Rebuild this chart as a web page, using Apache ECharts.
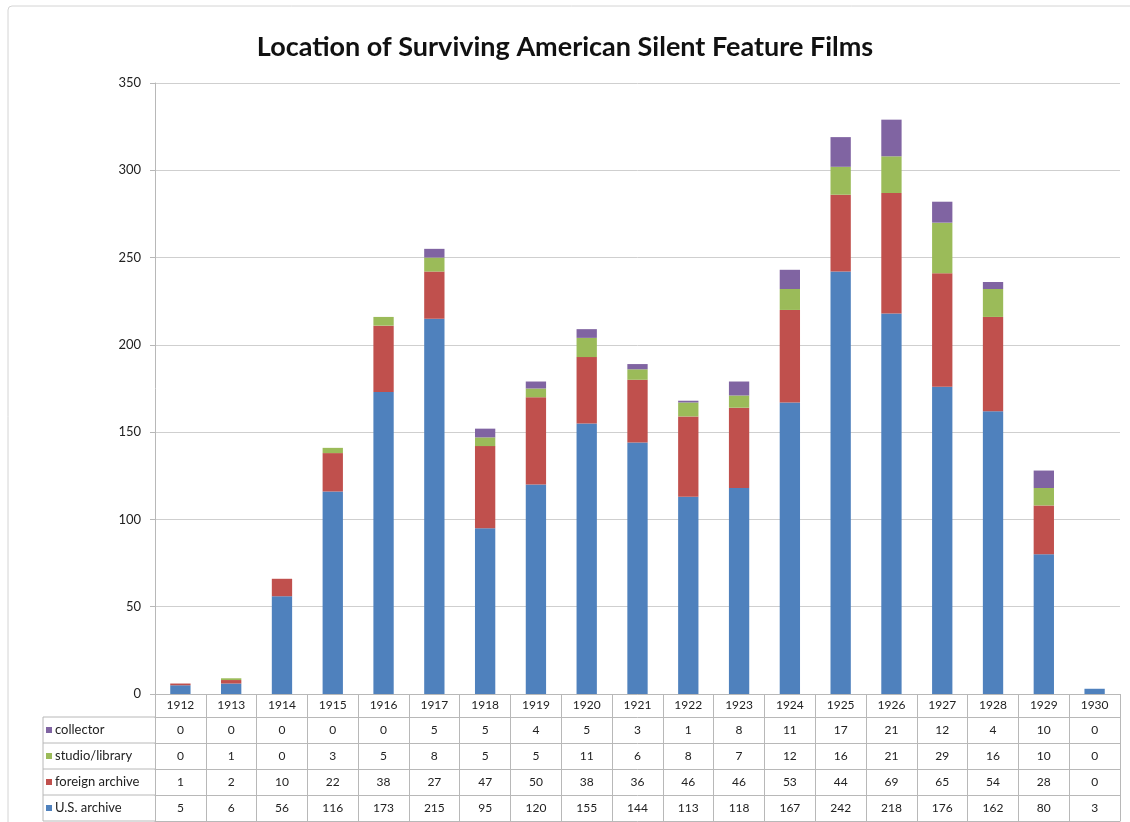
<!DOCTYPE html>
<html>
<head>
<meta charset="utf-8">
<title>Location of Surviving American Silent Feature Films</title>
<script src="https://cdn.jsdelivr.net/npm/echarts@6/dist/echarts.min.js"></script>
<style>
  html, body { margin: 0; padding: 0; background: #fff; }
  #main { width: 1130px; height: 822px; }
</style>
</head>
<body>
<div id="main"></div>
<script>
// data
var years = ['1912','1913','1914','1915','1916','1917','1918','1919','1920','1921',
             '1922','1923','1924','1925','1926','1927','1928','1929','1930'];
var usArchive      = [5, 6, 56, 116, 173, 215, 95, 120, 155, 144, 113, 118, 167, 242, 218, 176, 162, 80, 3];
var foreignArchive = [1, 2, 10, 22, 38, 27, 47, 50, 38, 36, 46, 46, 53, 44, 69, 65, 54, 28, 0];
var studioLibrary  = [0, 1, 0, 3, 5, 8, 5, 5, 11, 6, 8, 7, 12, 16, 21, 29, 16, 10, 0];
var collector      = [0, 0, 0, 0, 0, 5, 5, 4, 5, 3, 1, 8, 11, 17, 21, 12, 4, 10, 0];
var yTicks = [0, 50, 100, 150, 200, 250, 300, 350];

var names  = ['U.S. archive', 'foreign archive', 'studio/library', 'collector'];
var values = [usArchive, foreignArchive, studioLibrary, collector];
var colors = ['#4F81BD', '#C0504D', '#9BBB59', '#8064A2'];

var font = 'Lato, "Noto Sans", sans-serif';
var lineColor = '#b8b8b8';

// table layout (rows under the plot)
var gridBottom = 128;
var headH = 23, rowH = 26;
// table rows from top: collector, studio/library, foreign archive, U.S. archive
var tableRows = [3, 2, 1, 0];

var xAxes = [{
    type: 'category',
    data: years,
    position: 'bottom',
    offset: 0,
    axisLine: { lineStyle: { color: lineColor } },
    axisTick: { show: true, interval: 0, length: headH, lineStyle: { color: lineColor } },
    axisLabel: { interval: 0, margin: 5, color: '#222', fontSize: 12, fontFamily: font }
}];
tableRows.forEach(function (s, r) {
    xAxes.push({
        type: 'category',
        data: years,
        position: 'bottom',
        offset: headH + r * rowH,
        axisLine: { lineStyle: { color: lineColor } },
        axisTick: { show: true, interval: 0, length: rowH, lineStyle: { color: lineColor } },
        axisLabel: {
            interval: 0, margin: 7, color: '#222', fontSize: 12, fontFamily: font,
            formatter: function (v, i) { return String(values[s][i]); }
        }
    });
});
// bottom border of the table
xAxes.push({
    type: 'category',
    data: years,
    position: 'bottom',
    offset: headH + 4 * rowH,
    axisLine: { lineStyle: { color: lineColor } },
    axisTick: { show: false },
    axisLabel: { show: false }
});

var series = names.map(function (n, i) {
    return {
        name: n,
        type: 'bar',
        stack: 'total',
        xAxisIndex: 0,
        barWidth: '40%',
        itemStyle: { color: colors[i] },
        data: values[i]
    };
});

var plotBottomY = 822 - gridBottom;
var tableTop = plotBottomY + headH;
var graphics = [
    { type: 'rect', shape: { x: 8, y: 6, width: 1140, height: 840, r: 4 },
      style: { fill: 'none', stroke: '#d4d4d4', lineWidth: 1 }, silent: true },
    { type: 'line', shape: { x1: 43, y1: tableTop, x2: 43, y2: tableTop + 4 * rowH },
      style: { stroke: lineColor, lineWidth: 1 }, silent: true }
];
for (var r = 0; r <= 4; r++) {
    graphics.push({ type: 'line',
        shape: { x1: 43, y1: tableTop + r * rowH, x2: 155, y2: tableTop + r * rowH },
        style: { stroke: lineColor, lineWidth: 1 }, silent: true });
}

var option = {
    backgroundColor: '#fff',
    animation: false,
    title: {
        text: 'Location of Surviving American Silent Feature Films',
        left: 'center',
        top: 29,
        padding: [5, 0, 5, 18],
        textStyle: { fontSize: 27, fontWeight: 'bold', color: '#111', fontFamily: font }
    },
    legend: {
        data: ['collector', 'studio/library', 'foreign archive', 'U.S. archive'],
        orient: 'vertical',
        left: 46,
        top: tableTop + 6,
        padding: 0,
        icon: 'rect',
        itemWidth: 6,
        itemHeight: 6,
        itemGap: 12,
        selectedMode: false,
        textStyle: { fontSize: 13, lineHeight: 14, color: '#222', fontFamily: font, padding: [0, 0, 0, -2] }
    },
    grid: { left: 155, right: 10, top: 83, bottom: gridBottom, containLabel: false },
    xAxis: xAxes,
    yAxis: {
        type: 'value',
        min: 0,
        max: 350,
        interval: 50,
        axisLine: { show: true, lineStyle: { color: lineColor } },
        axisTick: { show: true, length: 5, lineStyle: { color: lineColor } },
        axisLabel: {
            margin: 14, color: '#222', fontSize: 13, fontFamily: font,
            formatter: function (v) { return yTicks.indexOf(v) >= 0 ? String(v) : ''; }
        },
        splitLine: { lineStyle: { color: '#cfcfcf' } }
    },
    graphic: graphics,
    series: series
};

var myChart = echarts.init(document.getElementById('main'));
myChart.setOption(option);
</script>
</body>
</html>
